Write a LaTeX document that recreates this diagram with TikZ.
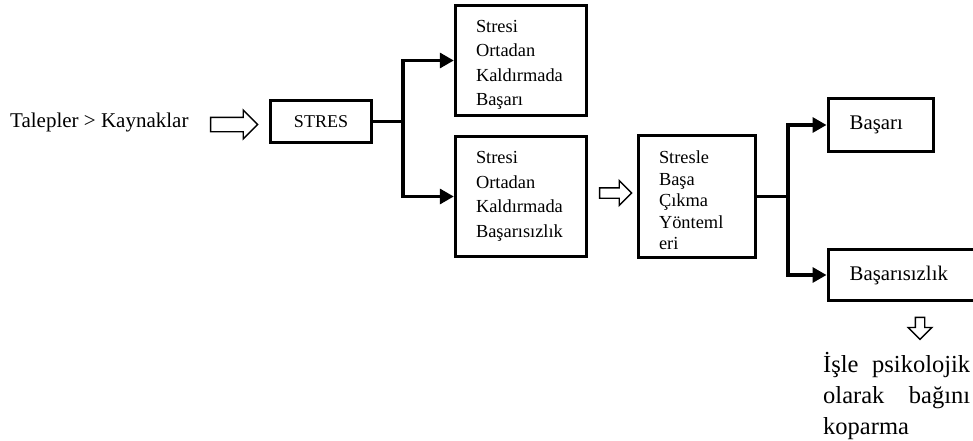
\documentclass[tikz,border=0pt]{standalone}
\usepackage{fontspec}
\setmainfont{Liberation Serif}
\usetikzlibrary{shapes.arrows,arrows.meta}

\begin{document}
\begin{tikzpicture}[x=1pt,y=-1pt,
					box/.style={draw,line width=3.4pt,inner ysep=0pt,inner xsep=20.5pt,align=left,
						font=\fontsize{18.4}{24.5}\selectfont},
					hollow/.style={single arrow,draw,line width=1.4pt,inner xsep=0pt,
						single arrow head indent=0pt},
					link/.style={line width=3.2pt,-{Triangle[length=14pt,width=15pt]}}]
	\useasboundingbox (0,0) rectangle (973,441);
	\clip (0,0) rectangle (973,441);
	\node[anchor=west,inner sep=0pt,font=\fontsize{21}{24}\selectfont] (talep) at (10,122) {Talepler > Kaynaklar};
	\node[hollow,minimum height=47pt,minimum width=25pt,inner ysep=6.5pt] (ok1) at (230.5,124.5) {};
	\node[box,align=center,inner xsep=0pt,minimum width=101pt,minimum height=42pt,
		font=\fontsize{18}{22}\selectfont] (stres) at (321,121.5) {STRES};
	\node[box,text width=90pt,minimum height=110pt] (basarili) at (521,60.5)
		{\rule{0pt}{21pt}Stresi\\Ortadan\\Kaldırmada\\Başarı};
	\node[box,text width=90pt,minimum height=120pt] (basarisiz) at (521,196.5)
		{Stresi\\Ortadan\\Kaldırmada\\Başarısızlık};
	\node[hollow,minimum height=32pt,minimum width=20pt,inner ysep=4.5pt] (ok2) at (613,193) {};
	\node[box,text width=76pt,minimum height=122pt,
		font=\fontsize{18.4}{21.5}\selectfont] (yontem) at (697,196.5)
		{\rule{0pt}{21pt}Stresle\\Başa\\Çıkma\\Yönteml\\eri};
	\node[box,anchor=west,inner xsep=21.5pt,text width=62pt,minimum height=53pt,
		font=\fontsize{20.8}{24}\selectfont] (basari) at (826.5,125) {Başarı};
	\node[box,anchor=west,inner xsep=21.5pt,text width=117pt,minimum height=51pt,
		font=\fontsize{20.8}{24}\selectfont] (basarisizlik) at (826.5,275) {Başarısızlık};
	\node[hollow,shape border rotate=270,minimum height=22pt,minimum width=14pt,
		inner xsep=4pt,inner ysep=0pt] (ok3) at (920,326) {};
	\node[anchor=north west,inner sep=0pt,text width=147pt,align=left,
		font=\fontsize{24.5}{31}\selectfont] (kopma) at (823,352)
		{İşle\hfill psikolojik\\olarak\hfill bağını\\koparma};
	% dallanmalar
	\coordinate (dal1) at (403,121.5);
	\coordinate (dal2) at (788,196.5);
	\draw[link] (stres.east) -- (dal1) |- (basarili.west);
	\draw[link] (dal1) |- (basarisiz.west);
	\draw[link] (yontem.east) -- (dal2) |- (basari.west);
	\draw[link] (dal2) |- (basarisizlik.west);
\end{tikzpicture}
\end{document}
